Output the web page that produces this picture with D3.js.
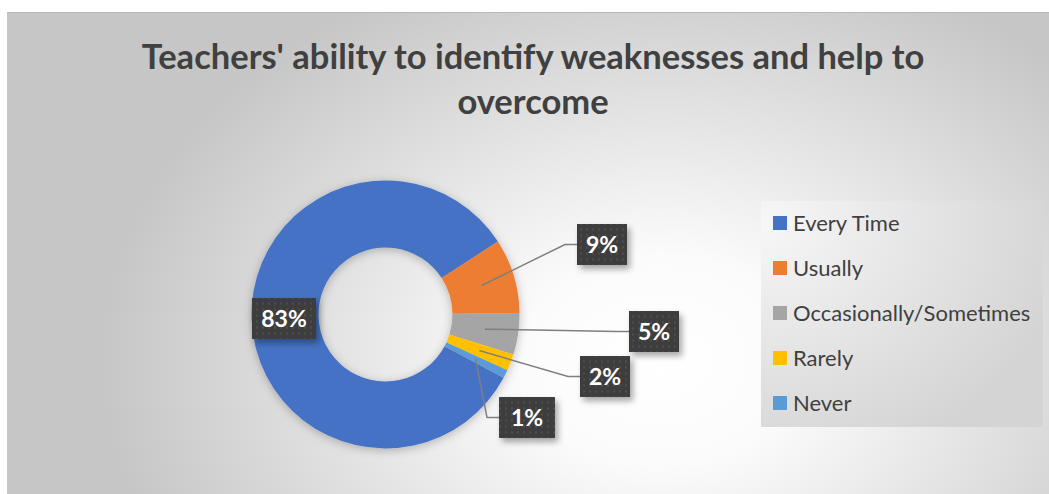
<!DOCTYPE html>
<html>
<head>
<meta charset="utf-8">
<script src="https://cdn.jsdelivr.net/npm/d3@7"></script>
<style>
  body { margin: 0; background: #fff; }
  svg { display: block; }
</style>
</head>
<body>
<div id="chart"></div>
<script>
"use strict";

var categories = ["Every Time", "Usually", "Occasionally/Sometimes", "Rarely", "Never"];
var values = [83, 9, 5, 2, 1];
var labels = ["83%", "9%", "5%", "2%", "1%"];
var colors = ["#4472c4", "#ed7d31", "#a5a5a5", "#ffc000", "#5b9bd5"];

var W = 1049, H = 494;
var cx = 385.5, cy = 314.5, rOut = 134, rIn = 67;
// first slice angle (Excel rotates the donut)
var rot = (57 + 360 * 0.17) * Math.PI / 180;

// label boxes: centre x, centre y, width; elbow of the leader line
var boxes = [
  { x: 284, y: 318.5, w: 64, elbow: null },
  { x: 602, y: 244.5, w: 50, elbow: [565, 244.5] },
  { x: 654, y: 331.5, w: 50, elbow: [617, 331.5] },
  { x: 605, y: 376.5, w: 50, elbow: [568, 376.5] },
  { x: 527, y: 417.5, w: 56, elbow: [487, 417.5] }
];

var svg = d3.select("#chart").append("svg").attr("width", W).attr("height", H);
var defs = svg.append("defs");

var bg = defs.append("radialGradient").attr("id", "bg")
  .attr("gradientUnits", "userSpaceOnUse")
  .attr("cx", 660).attr("cy", 360).attr("r", 560)
  .attr("gradientTransform", "translate(660,360) scale(1,0.75) translate(-660,-360)");
bg.append("stop").attr("offset", "0%").attr("stop-color", "#ffffff");
bg.append("stop").attr("offset", "25%").attr("stop-color", "#fbfbfb");
bg.append("stop").attr("offset", "100%").attr("stop-color", "#c6c6c6");

var lg = defs.append("radialGradient").attr("id", "lg")
  .attr("cx", "0%").attr("cy", "10%").attr("r", "110%");
lg.append("stop").attr("offset", "0%").attr("stop-color", "#f7f7f7");
lg.append("stop").attr("offset", "100%").attr("stop-color", "#d4d4d4");

var pat = defs.append("pattern").attr("id", "dots")
  .attr("patternUnits", "userSpaceOnUse").attr("width", 6).attr("height", 6);
pat.append("rect").attr("width", 6).attr("height", 6).attr("fill", "#3d3d3d");
pat.append("rect").attr("x", 2).attr("y", 2).attr("width", 2).attr("height", 2).attr("fill", "#4e4e4e");

var sh = defs.append("filter").attr("id", "shadow").attr("x", "-20%").attr("y", "-20%").attr("width", "150%").attr("height", "160%");
sh.append("feDropShadow").attr("dx", 3).attr("dy", 4).attr("stdDeviation", 3)
  .attr("flood-color", "#000").attr("flood-opacity", 0.35);

var dsh = defs.append("filter").attr("id", "dshadow").attr("x", "-20%").attr("y", "-20%").attr("width", "140%").attr("height", "140%");
dsh.append("feDropShadow").attr("dx", 0).attr("dy", 2).attr("stdDeviation", 5)
  .attr("flood-color", "#000").attr("flood-opacity", 0.25);

// chart area
svg.append("rect").attr("x", 7).attr("y", 12).attr("width", W - 7).attr("height", H - 12).attr("fill", "url(#bg)");
svg.append("line").attr("x1", 7).attr("x2", W).attr("y1", 12.5).attr("y2", 12.5).attr("stroke", "#b8b8b8");

// title
var title = svg.append("text").attr("text-anchor", "middle")
  .attr("font-family", "Lato, 'Open Sans', sans-serif").attr("font-weight", "bold")
  .attr("font-size", 34.5).attr("fill", "#404040");
title.append("tspan").attr("x", 533).attr("y", 69).text("Teachers' ability to identify weaknesses and help to");
title.append("tspan").attr("x", 533).attr("y", 114).text("overcome");

// donut
var data = categories.map(function (c, i) {
  return { name: c, value: values[i], label: labels[i], color: colors[i], box: boxes[i] };
});

var pie = d3.pie().sort(null).value(function (d) { return d.value; })
  .startAngle(rot).endAngle(rot + 2 * Math.PI);
var arc = d3.arc().innerRadius(rIn).outerRadius(rOut);
var arcs = pie(data);

var g = svg.append("g").attr("transform", "translate(" + cx + "," + cy + ")");
g.append("g").attr("filter", "url(#dshadow)")
  .selectAll("path").data(arcs).enter().append("path")
  .attr("d", arc).attr("fill", function (d) { return d.data.color; });

// leader lines
arcs.forEach(function (a) {
  var b = a.data.box;
  if (!b.elbow) return;
  var c = arc.centroid(a);
  var p0 = [cx + c[0], cy + c[1]];
  var pts = [p0, b.elbow, [b.x - b.w / 2, b.y]];
  svg.append("path").attr("d", d3.line()(pts))
    .attr("fill", "none").attr("stroke", "#7f7f7f").attr("stroke-width", 1.5);
});

// labels
var lab = svg.append("g").selectAll("g").data(arcs).enter().append("g")
  .attr("transform", function (d) { return "translate(" + d.data.box.x + "," + d.data.box.y + ")"; });
lab.append("rect")
  .attr("x", function (d) { return -d.data.box.w / 2; }).attr("y", -20.5)
  .attr("width", function (d) { return d.data.box.w; }).attr("height", 41)
  .attr("fill", "url(#dots)").attr("filter", "url(#shadow)");
lab.append("text").attr("text-anchor", "middle").attr("dy", "0.36em")
  .attr("font-family", "Lato, 'Open Sans', sans-serif").attr("font-weight", "bold")
  .attr("font-size", 23).attr("fill", "#ffffff")
  .text(function (d) { return d.data.label; });

// legend
var legend = svg.append("g");
legend.append("rect").attr("x", 761).attr("y", 201).attr("width", 282).attr("height", 226).attr("fill", "url(#lg)");
var ly = d3.scalePoint().domain(categories).range([223, 403]);
var item = legend.selectAll("g").data(data).enter().append("g")
  .attr("transform", function (d) { return "translate(773," + ly(d.name) + ")"; });
item.append("rect").attr("x", 0).attr("y", -7).attr("width", 14).attr("height", 14)
  .attr("fill", function (d) { return d.color; });
item.append("text").attr("x", 20).attr("dy", "0.35em")
  .attr("font-family", "Lato, 'Open Sans', sans-serif").attr("font-size", 22).attr("fill", "#404040")
  .text(function (d) { return d.name; });
</script>
</body>
</html>
